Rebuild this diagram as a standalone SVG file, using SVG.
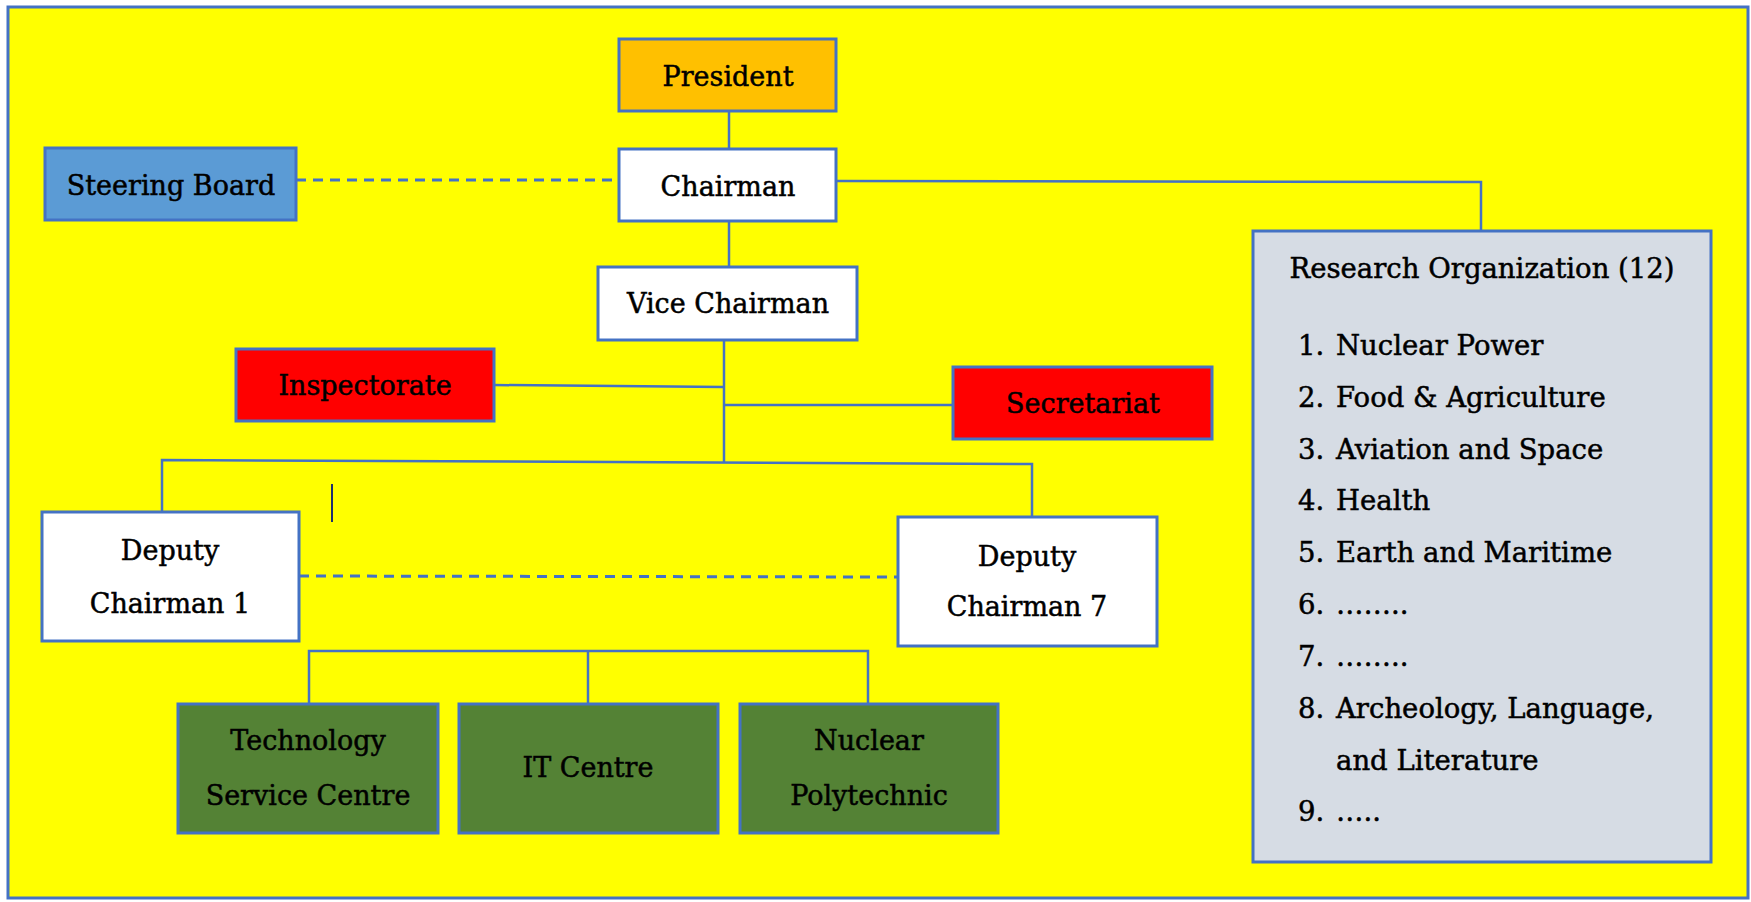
<svg xmlns="http://www.w3.org/2000/svg" width="1751" height="902" viewBox="0 0 1751 902">
<style>
.box{stroke:#4472C4;stroke-width:3}
.t{font-family:"DejaVu Serif","Liberation Serif",serif;font-size:27px;fill:#000;stroke:#000;stroke-width:0.5;text-anchor:middle}
.l{font-family:"DejaVu Serif","Liberation Serif",serif;font-size:27.5px;fill:#000;stroke:#000;stroke-width:0.5}
.c{stroke:#4472C4;stroke-width:2.5;fill:none}
.d{stroke:#4472C4;stroke-width:3;fill:none;stroke-dasharray:10 7}
</style>
<rect x="0" y="0" width="1751" height="902" fill="#fff"/>
<rect x="8" y="7" width="1740" height="891" fill="#FFFF00" stroke="#4472C4" stroke-width="3"/>
<g id="connectors">
<line class="c" x1="729" y1="111" x2="729" y2="149"/>
<line class="c" x1="729" y1="221" x2="729" y2="267"/>
<line class="d" x1="296" y1="180" x2="619" y2="180"/>
<polyline class="c" points="836,181 1481,182 1481,231"/>
<line class="c" x1="724" y1="340" x2="724" y2="463"/>
<line class="c" x1="494" y1="385" x2="724" y2="387"/>
<line class="c" x1="724" y1="405" x2="953" y2="405"/>
<polyline class="c" points="162,512 162,460 1032,464 1032,517"/>
<line class="d" x1="299" y1="576" x2="898" y2="577"/>
<line x1="332" y1="484" x2="332" y2="522" stroke="#1F2F6E" stroke-width="2"/>
<polyline class="c" points="309,704 309,651 868,651 868,704"/>
<line class="c" x1="588" y1="651" x2="588" y2="704"/>
</g>
<g id="president"><rect class="box" x="619" y="39" width="217" height="72" fill="#FFC000"/><text class="t" x="728" y="86">President</text></g>
<g id="chairman"><rect class="box" x="619" y="149" width="217" height="72" fill="#fff"/><text class="t" x="728" y="196">Chairman</text></g>
<g id="steering-board"><rect class="box" x="45" y="148" width="251" height="72" fill="#5B9BD5"/><text class="t" x="171" y="195">Steering Board</text></g>
<g id="vice-chairman"><rect class="box" x="598" y="267" width="259" height="73" fill="#fff"/><text class="t" x="728" y="313">Vice Chairman</text></g>
<g id="inspectorate"><rect class="box" x="236" y="349" width="258" height="72" fill="#FF0000"/><text class="t" x="365" y="395">Inspectorate</text></g>
<g id="secretariat"><rect class="box" x="953" y="367" width="259" height="72" fill="#FF0000"/><text class="t" x="1083" y="413">Secretariat</text></g>
<g id="deputy-1"><rect class="box" x="42" y="512" width="257" height="129" fill="#fff"/><text class="t" x="170" y="560">Deputy</text><text class="t" x="170" y="613">Chairman 1</text></g>
<g id="deputy-7"><rect class="box" x="898" y="517" width="259" height="129" fill="#fff"/><text class="t" x="1027" y="566">Deputy</text><text class="t" x="1027" y="616">Chairman 7</text></g>
<g id="tech-service"><rect class="box" x="178" y="704" width="260" height="129" fill="#548235"/><text class="t" x="308" y="750">Technology</text><text class="t" x="308" y="805">Service Centre</text></g>
<g id="it-centre"><rect class="box" x="459" y="704" width="259" height="129" fill="#548235"/><text class="t" x="588" y="777">IT Centre</text></g>
<g id="nuclear-polytechnic"><rect class="box" x="740" y="704" width="258" height="129" fill="#548235"/><text class="t" x="869" y="750">Nuclear</text><text class="t" x="869" y="805">Polytechnic</text></g>
<g id="research-organization">
<rect class="box" x="1253" y="231" width="458" height="631" fill="#D6DCE4"/>
<text class="t" x="1482" y="278" style="font-size:27.5px">Research Organization (12)</text>
<text class="l" x="1298" y="355">1.</text><text class="l" x="1336" y="355">Nuclear Power</text>
<text class="l" x="1298" y="407">2.</text><text class="l" x="1336" y="407">Food &amp; Agriculture</text>
<text class="l" x="1298" y="459">3.</text><text class="l" x="1336" y="459">Aviation and Space</text>
<text class="l" x="1298" y="510">4.</text><text class="l" x="1336" y="510">Health</text>
<text class="l" x="1298" y="562">5.</text><text class="l" x="1336" y="562">Earth and Maritime</text>
<text class="l" x="1298" y="614">6.</text><text class="l" x="1336" y="614">……..</text>
<text class="l" x="1298" y="666">7.</text><text class="l" x="1336" y="666">……..</text>
<text class="l" x="1298" y="718">8.</text><text class="l" x="1336" y="718">Archeology, Language,</text>
<text class="l" x="1336" y="770">and Literature</text>
<text class="l" x="1298" y="821">9.</text><text class="l" x="1336" y="821">…..</text>
</g>
</svg>
